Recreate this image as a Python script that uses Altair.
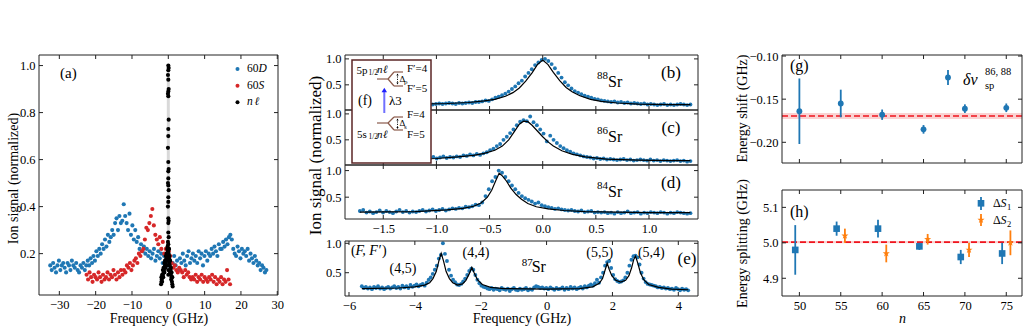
import altair as alt
import numpy as np
import pandas as pd

FONT = "Liberation Serif"
BLUE = "#1f77b4"
RED = "#d62728"
ORANGE = "#ff7f0e"
LINE_RED = "#f0141e"
INK = "#222222"
LEVEL = "#8a5a4a"
W, H = 1029, 332

# ---------------- (a) broad scan ----------------
d60_range = (-32.5, 27.0)
d60_signal = [
    0.15, 0.13, 0.16, 0.14, 0.12, 0.15, 0.17, 0.13, 0.15, 0.16, 0.14, 0.12, 0.16, 0.15, 0.13, 0.17, 0.15, 0.14, 0.16,
    0.13, 0.12, 0.15, 0.14, 0.16, 0.13, 0.15,
    0.17, 0.15, 0.18, 0.16, 0.19, 0.17, 0.21, 0.19,
    0.22, 0.20, 0.24, 0.22, 0.26, 0.23, 0.28, 0.25,
    0.27, 0.30, 0.28, 0.33, 0.35, 0.30, 0.36, 0.33, 0.34, 0.41,
    0.36, 0.33, 0.30, 0.37, 0.28, 0.32, 0.26, 0.30,
    0.25, 0.27, 0.22, 0.24, 0.21, 0.23, 0.20, 0.22, 0.19, 0.21,
    0.18, 0.20, 0.22, 0.17, 0.19, 0.21, 0.18, 0.20, 0.16, 0.19, 0.17,
    0.18, 0.15, 0.17, 0.14, 0.16, 0.19, 0.15, 0.17, 0.13, 0.18,
    0.16, 0.20, 0.17, 0.15, 0.19, 0.21, 0.16, 0.18, 0.20, 0.17,
    0.19, 0.16, 0.21, 0.18, 0.20, 0.15, 0.19, 0.21, 0.17, 0.20,
    0.19, 0.22, 0.20, 0.23, 0.21, 0.19, 0.24, 0.22,
    0.22, 0.25, 0.23, 0.26, 0.24, 0.27, 0.28, 0.26,
    0.22, 0.20, 0.19, 0.23, 0.21, 0.18, 0.22, 0.20,
    0.21, 0.19, 0.22, 0.17, 0.20, 0.18, 0.16, 0.19,
    0.17, 0.15, 0.16, 0.13, 0.15, 0.14, 0.12, 0.13,
]
s60_range = (-22.5, 17.0)
s60_signal = [
    0.11, 0.09, 0.12, 0.10, 0.08, 0.11, 0.10, 0.09, 0.12, 0.10, 0.08, 0.11, 0.09,
    0.10, 0.12, 0.09, 0.11, 0.10, 0.13, 0.11, 0.09, 0.12, 0.10, 0.13, 0.11,
    0.13, 0.12, 0.15, 0.14, 0.16, 0.13, 0.15, 0.17,
    0.18, 0.16, 0.20, 0.19, 0.21,
    0.22, 0.26, 0.31, 0.30, 0.33, 0.36, 0.39, 0.32, 0.28,
    0.26, 0.24, 0.27, 0.22, 0.25,
    0.20, 0.22, 0.18, 0.21, 0.19,
    0.16, 0.14, 0.15, 0.13, 0.12, 0.14, 0.13,
    0.12, 0.10, 0.13, 0.11, 0.12, 0.10, 0.09,
    0.10, 0.09, 0.11, 0.08, 0.10, 0.09, 0.11, 0.08, 0.10, 0.09, 0.08, 0.10, 0.09, 0.11,
    0.08, 0.10, 0.07, 0.09, 0.08, 0.10, 0.07, 0.09, 0.08, 0.13, 0.09, 0.07,
]
nl_freq = [
    0.0, 0.1, 0.0, -0.1, 0.0, 0.1, 0.0, -0.1, 0.0, 0.1, 0.0, 0.0, -0.1, 0.0, 0.1, 0.0,
    0.0, -0.1, 0.0, 0.1, 0.0, 0.0, -0.1, 0.0, 0.1, 0.0, 0.0, 0.1, -0.1, 0.0, 0.1,
    -2.0, -1.9, -1.8, -1.7, -1.6, -1.5, -1.4, -1.3, -1.2, -1.1, -1.0, -0.9, -0.8, -0.7, -0.6, -0.5, -0.4, -0.3, -0.2,
    -1.9, -1.7, -1.5, -1.3, -1.1, -0.9, -0.7, -0.5, -0.3,
    1.2, 1.1, 1.0, 0.9, 0.8, 0.7, 0.6, 0.5, 0.4, 0.3, 0.2, 0.1,
    1.1, 0.9, 0.7, 0.5, 0.3,
    -0.1, 0.0, 0.1, -0.1, 0.0, 0.2, 0.0, -0.2,
]
nl_signal = [
    1.00, 0.99, 0.98, 0.96, 0.94, 0.90, 0.89, 0.88, 0.87, 0.77, 0.73, 0.70, 0.65, 0.59, 0.56, 0.55,
    0.52, 0.50, 0.49, 0.47, 0.44, 0.42, 0.40, 0.35, 0.34, 0.33, 0.29, 0.27, 0.25, 0.24, 0.22,
    0.07, 0.08, 0.09, 0.08, 0.10, 0.11, 0.10, 0.12, 0.13, 0.12, 0.14, 0.15, 0.14, 0.16, 0.17, 0.18, 0.17, 0.19, 0.20,
    0.10, 0.11, 0.13, 0.14, 0.16, 0.17, 0.19, 0.20, 0.22,
    0.06, 0.07, 0.08, 0.10, 0.09, 0.11, 0.13, 0.12, 0.15, 0.16, 0.18, 0.20,
    0.10, 0.12, 0.14, 0.17, 0.19,
    0.21, 0.19, 0.17, 0.15, 0.13, 0.22, 0.11, 0.23,
]

# ---------------- (b)-(d) isotope scans ----------------
iso_range = (-1.72, 1.39)
sr88_signal = [
    0.13, 0.12, 0.14, 0.13, 0.12, 0.13, 0.14, 0.12, 0.13, 0.14, 0.13, 0.12, 0.13, 0.14, 0.13, 0.12, 0.14, 0.13, 0.13, 0.12, 0.14, 0.13, 0.12,
    0.13, 0.14, 0.13, 0.14, 0.15, 0.14, 0.13, 0.15, 0.14, 0.15, 0.16, 0.15, 0.17,
    0.17, 0.18, 0.20, 0.19, 0.22, 0.25, 0.27, 0.30, 0.33, 0.37,
    0.42, 0.47, 0.53, 0.58, 0.66, 0.73, 0.80, 0.88, 0.93, 0.98,
    1.00, 0.96, 0.90, 0.82, 0.73, 0.64, 0.55, 0.49, 0.43, 0.38,
    0.35, 0.32, 0.29, 0.27, 0.25, 0.23, 0.22, 0.20, 0.19, 0.18,
    0.17, 0.18, 0.16, 0.17, 0.15, 0.16, 0.14, 0.15, 0.14, 0.13, 0.14, 0.12, 0.13,
    0.12, 0.11, 0.12, 0.13, 0.11, 0.12, 0.11, 0.12, 0.13, 0.12, 0.11, 0.12,
]
sr88_fit_f = [-1.72, -1.2, -0.9, -0.7, -0.55, -0.45, -0.35, -0.28, -0.22, -0.16, -0.1, -0.05, 0.0,
              0.05, 0.1, 0.16, 0.22, 0.28, 0.35, 0.45, 0.55, 0.7, 0.9, 1.2, 1.39]
sr88_fit = [0.12, 0.13, 0.14, 0.16, 0.19, 0.22, 0.28, 0.35, 0.44, 0.57, 0.73, 0.89, 0.98,
            0.89, 0.74, 0.58, 0.45, 0.36, 0.29, 0.22, 0.18, 0.15, 0.13, 0.12, 0.12]

sr86_signal = [
    0.09, 0.10, 0.09, 0.11, 0.10, 0.09, 0.11, 0.12, 0.10, 0.12, 0.11, 0.13, 0.12,
    0.13, 0.12, 0.14, 0.13, 0.15, 0.14, 0.13, 0.16, 0.15, 0.17, 0.14, 0.16, 0.18, 0.15, 0.17, 0.16,
    0.18, 0.17, 0.20, 0.19, 0.22, 0.20, 0.23, 0.21, 0.24, 0.26,
    0.30, 0.33, 0.38, 0.42, 0.50, 0.56, 0.63, 0.70, 0.78, 0.85,
    0.88, 0.86, 0.95, 0.84, 0.78, 0.70, 0.62, 0.47, 0.58, 0.50,
    0.44, 0.38, 0.34, 0.30, 0.27, 0.24, 0.22, 0.20, 0.18, 0.17,
    0.16, 0.14, 0.15, 0.13, 0.14, 0.12, 0.13, 0.12, 0.11, 0.12, 0.13, 0.11, 0.12, 0.10, 0.11, 0.12,
    0.11, 0.10, 0.12, 0.10, 0.11, 0.09, 0.11, 0.10, 0.09, 0.10, 0.11, 0.09, 0.10, 0.08, 0.09,
]
sr86_fit_f = [-1.72, -1.3, -1.0, -0.8, -0.65, -0.55, -0.45, -0.38, -0.32, -0.27, -0.22, -0.18, -0.14,
              -0.1, -0.05, 0.0, 0.05, 0.1, 0.18, 0.28, 0.4, 0.6, 0.9, 1.2, 1.39]
sr86_fit = [0.10, 0.12, 0.14, 0.17, 0.20, 0.24, 0.30, 0.38, 0.50, 0.65, 0.80, 0.86, 0.85,
            0.78, 0.67, 0.56, 0.46, 0.38, 0.29, 0.22, 0.17, 0.13, 0.11, 0.10, 0.10]

sr84_signal = [
    0.24, 0.26, 0.21, 0.23, 0.20, 0.22, 0.25, 0.21, 0.24, 0.22, 0.20, 0.23, 0.26, 0.22, 0.24, 0.21, 0.23,
    0.22, 0.24, 0.26, 0.23, 0.25, 0.27, 0.24, 0.26, 0.28, 0.25, 0.27, 0.29, 0.28,
    0.30, 0.29, 0.32, 0.31, 0.33, 0.36, 0.35, 0.40,
    0.52, 0.65, 0.80, 0.88, 1.00,
    0.96, 0.88, 0.80, 0.72, 0.65, 0.58, 0.52,
    0.48, 0.45, 0.42, 0.38, 0.40, 0.35, 0.33, 0.31, 0.30, 0.28,
    0.29, 0.27, 0.26, 0.25, 0.26, 0.24, 0.23, 0.25, 0.22, 0.23, 0.24, 0.21, 0.22,
    0.21, 0.22, 0.20, 0.21, 0.19, 0.22, 0.20, 0.21, 0.23, 0.20, 0.21, 0.22, 0.19, 0.21, 0.20, 0.22,
    0.21, 0.20, 0.22, 0.21, 0.19, 0.21, 0.20, 0.22, 0.21, 0.20, 0.19, 0.20,
]
sr84_fit_f = [-1.72, -1.2, -0.9, -0.75, -0.65, -0.58, -0.52, -0.48, -0.44, -0.41, -0.38, -0.34,
              -0.3, -0.25, -0.2, -0.14, -0.06, 0.05, 0.2, 0.4, 0.7, 1.0, 1.39]
sr84_fit = [0.22, 0.23, 0.26, 0.29, 0.33, 0.39, 0.50, 0.63, 0.82, 0.95, 0.90, 0.80,
            0.67, 0.55, 0.46, 0.38, 0.32, 0.28, 0.25, 0.23, 0.22, 0.21, 0.21]

# ---------------- (e) 87Sr hyperfine scan ----------------
sr87_range = (-5.61, 4.3)
sr87_signal = [
    0.27, 0.24, 0.26, 0.23, 0.25, 0.22, 0.26, 0.24, 0.27, 0.23, 0.25, 0.22, 0.24, 0.26, 0.23, 0.25, 0.27, 0.24, 0.26, 0.23, 0.28, 0.25, 0.27, 0.24, 0.29, 0.26,
    0.28, 0.30, 0.27, 0.29, 0.31, 0.28, 0.33,
    0.38, 0.42, 0.48, 0.55, 0.62, 0.74, 0.80,
    1.00, 0.82, 0.70, 0.55, 0.45, 0.38,
    0.34, 0.30, 0.29, 0.31, 0.35, 0.40,
    0.46, 0.53, 0.57,
    0.55, 0.46, 0.38, 0.32, 0.28, 0.26,
    0.25, 0.23, 0.22, 0.24, 0.21, 0.23, 0.22, 0.20, 0.24, 0.22, 0.21, 0.23, 0.19, 0.22, 0.24, 0.21, 0.20, 0.23, 0.21, 0.22,
    0.24, 0.20, 0.22, 0.21, 0.25, 0.27, 0.26, 0.24, 0.25, 0.23, 0.24, 0.22, 0.25, 0.23, 0.21, 0.24, 0.22, 0.23, 0.25, 0.21,
    0.24, 0.22, 0.26, 0.23, 0.25, 0.22, 0.24, 0.26, 0.23, 0.27, 0.25, 0.28,
    0.30, 0.28, 0.32, 0.38, 0.33, 0.42, 0.50, 0.62, 0.68,
    0.70, 0.58, 0.46, 0.39, 0.36, 0.34, 0.35,
    0.37, 0.42, 0.50, 0.62, 0.72, 0.78, 0.79,
    0.76, 0.64, 0.50, 0.40, 0.34, 0.31, 0.30, 0.29,
    0.28, 0.27, 0.25, 0.26, 0.24, 0.25, 0.23, 0.24, 0.22, 0.23, 0.21, 0.24, 0.22, 0.20, 0.23, 0.21, 0.22, 0.20,
]
sr87_fit_f = [-5.61, -4.5, -4.0, -3.7, -3.55, -3.45, -3.35, -3.27, -3.2, -3.13, -3.05, -2.95, -2.85, -2.7,
              -2.55, -2.45, -2.35, -2.27, -2.2, -2.1, -1.95, -1.7, -1.3, 0.0, 1.0, 1.4, 1.6, 1.7, 1.78,
              1.84, 1.9, 1.98, 2.1, 2.25, 2.4, 2.5, 2.58, 2.65, 2.7, 2.76, 2.85, 2.95, 3.1, 3.4, 3.8, 4.3]
sr87_fit = [0.23, 0.24, 0.26, 0.29, 0.33, 0.40, 0.52, 0.70, 0.83, 0.70, 0.52, 0.40, 0.33, 0.29,
            0.31, 0.37, 0.48, 0.59, 0.50, 0.38, 0.30, 0.25, 0.23, 0.22, 0.23, 0.26, 0.32, 0.40, 0.55,
            0.66, 0.56, 0.45, 0.37, 0.34, 0.37, 0.45, 0.58, 0.73, 0.78, 0.68, 0.50, 0.38, 0.30, 0.25, 0.22, 0.21]
hf_labels = ["(4,5)", "(4,4)", "(5,5)", "(5,4)"]

# ---------------- (g) isotope shift vs n ----------------
g_n = [50, 55, 60, 65, 70, 75]
g_shift = [-0.164, -0.155, -0.168, -0.185, -0.161, -0.160]
g_err = [0.038, 0.016, 0.006, 0.005, 0.005, 0.005]
g_mean, g_mean_err = -0.1695, 0.0035

# ---------------- (h) hyperfine splittings vs n ----------------
s1_n = [49.5, 54.5, 59.5, 64.5, 69.5, 74.5]
s1_val = [4.98, 5.04, 5.04, 4.99, 4.96, 4.97]
s1_err = [0.07, 0.02, 0.025, 0.01, 0.02, 0.03]
s2_n = [55.5, 60.5, 65.5, 70.5, 75.5]
s2_val = [5.02, 4.97, 5.01, 4.98, 5.00]
s2_err = [0.02, 0.025, 0.015, 0.02, 0.035]
h_mean, h_mean_err = 5.002, 0.003

STAR = ("M0,-1L0.235,-0.324L0.951,-0.309L0.38,0.124L0.588,0.809L0,0.4L-0.588,0.809"
        "L-0.38,0.124L-0.951,-0.309L-0.235,-0.324Z")

ONE = pd.DataFrame({"k": [0]})

# panel boxes in canvas pixels: (left, top, right, bottom)
BOX_A = (39, 55, 278, 295)
BOX_B = (345, 55, 698, 110)
BOX_C = (345, 110, 698, 165)
BOX_D = (345, 165, 698, 219)
BOX_E = (345, 241, 698, 296)
BOX_G = (782, 55, 1022, 163)
BOX_H = (782, 190, 1022, 296)


def scales(box, xdom, ydom):
    x0, y0, x1, y1 = box
    xs = alt.Scale(domain=list(xdom), range=[x0, x1], nice=False, zero=False)
    ys = alt.Scale(domain=list(ydom), range=[y1, y0], nice=False, zero=False)
    return xs, ys


def left_axis(box, values, fmt, **kw):
    return alt.Axis(orient="left", offset=-box[0], values=values, format=fmt, labelPadding=4, **kw)


def bottom_axis(box, values, fmt, **kw):
    return alt.Axis(orient="bottom", offset=box[3] - H, values=values, format=fmt, labelPadding=3, **kw)


def titled(title, x, y, angle=0, **kw):
    return dict(title=title, titleX=x, titleY=y, titleAngle=angle,
                titleBaseline="middle", titleAlign="center", **kw)


def seg(x1, y1, x2, y2, color=INK, width=1.0, dash=None):
    kw = dict(color=color, strokeWidth=width)
    if dash:
        kw["strokeDash"] = dash
    return alt.Chart(ONE).mark_rule(**kw).encode(
        x=alt.value(x1), y=alt.value(y1), x2=alt.value(x2), y2=alt.value(y2))


def label(s, x, y, size, align="left", style="normal", color="black", angle=0):
    return alt.Chart(ONE).mark_text(
        text=s, align=align, baseline="middle", fontSize=size, font=FONT,
        fontStyle=style, color=color, angle=angle,
    ).encode(x=alt.value(x), y=alt.value(y))


def dot(x, y, color, size, shape="circle"):
    return alt.Chart(ONE).mark_point(shape=shape, filled=True, size=size, color=color, opacity=1).encode(
        x=alt.value(x), y=alt.value(y))


def frame(box, xt, yt, xs, ys, L=4):
    """Box around a panel with inward ticks on all four sides."""
    x0, y0, x1, y1 = box
    out = [seg(x0, y0, x1, y0), seg(x0, y1, x1, y1), seg(x0, y0, x0, y1), seg(x1, y0, x1, y1)]
    tx = pd.DataFrame({"x": xt})
    ty = pd.DataFrame({"y": yt})
    X = alt.X("x:Q", scale=xs, axis=None)
    Y = alt.Y("y:Q", scale=ys, axis=None)
    rk = dict(color=INK, strokeWidth=1)
    out += [
        alt.Chart(tx).mark_rule(**rk).encode(x=X, y=alt.value(y1 - L), y2=alt.value(y1)),
        alt.Chart(tx).mark_rule(**rk).encode(x=X, y=alt.value(y0), y2=alt.value(y0 + L)),
        alt.Chart(ty).mark_rule(**rk).encode(y=Y, x=alt.value(x0), x2=alt.value(x0 + L)),
        alt.Chart(ty).mark_rule(**rk).encode(y=Y, x=alt.value(x1 - L), x2=alt.value(x1)),
    ]
    return out


layers = []

# ================= panel (a) =================
xa, ya = scales(BOX_A, (-35.6, 30.2), (0.024, 1.045))
a_xt = [-30, -20, -10, 0, 10, 20, 30]
a_yt = [0.2, 0.4, 0.6, 0.8, 1.0]
Xa = alt.X("x:Q", scale=xa, axis=None)
Ya = alt.Y("y:Q", scale=ya, axis=None)
df_d60 = pd.DataFrame({"x": np.linspace(*d60_range, len(d60_signal)), "y": d60_signal})
df_s60 = pd.DataFrame({"x": np.linspace(*s60_range, len(s60_signal)), "y": s60_signal})
df_nl = pd.DataFrame({"x": nl_freq, "y": nl_signal})
df_nl_line = pd.DataFrame({"x": [0.0], "y": [min(v for v in nl_signal if v > 0.2)], "y2": [max(nl_signal)]})

layers += [
    alt.Chart(df_nl_line).mark_rule(color="#d9d9d9", strokeWidth=3).encode(x=Xa, y=Ya, y2="y2:Q"),
    alt.Chart(df_d60).mark_circle(color=BLUE, size=17, opacity=1).encode(
        x=alt.X("x:Q", scale=xa, axis=bottom_axis(BOX_A, a_xt, "d", **titled("Frequency (GHz)", 158.5, 23))),
        y=alt.Y("y:Q", scale=ya, axis=left_axis(BOX_A, a_yt, ".1f", **titled("Ion signal (normalized)", -26, 178, 270)))),
    alt.Chart(df_s60).mark_circle(color=RED, size=17, opacity=1).encode(x=Xa, y=Ya),
    alt.Chart(df_nl).mark_circle(color="black", size=17, opacity=1).encode(x=Xa, y=Ya),
    *frame(BOX_A, a_xt, a_yt, xa, ya),
    dot(237.5, 69, BLUE, 16), label("60", 247, 69, 11.5), label("D", 258.5, 69, 11.5, style="italic"),
    dot(237.5, 85.7, RED, 16), label("60", 247, 85.7, 11.5), label("S", 258.5, 85.7, 11.5, style="italic"),
    dot(237.5, 102.3, "black", 16), label("n", 247, 102.3, 11.5, style="italic"),
    label("ℓ", 254.5, 102.3, 11.5, style="italic"),
    label("(a)", 60, 73, 15),
]

# ================= panels (b)-(e) =================
iso_xt = [-1.5, -1.0, -0.5, 0.0, 0.5, 1.0]
iso_yt = [0.5, 1.0]


def iso_panel(box, xdom, ydom, signal, xr, fit_f, fit_y, xt, x_axis, y_axis):
    xs, ys = scales(box, xdom, ydom)
    df = pd.DataFrame({"x": np.linspace(*xr, len(signal)), "y": signal})
    df_fit = pd.DataFrame({"x": fit_f, "y": fit_y})
    return [
        alt.Chart(df).mark_circle(color=BLUE, size=15, opacity=1).encode(
            x=alt.X("x:Q", scale=xs, axis=x_axis), y=alt.Y("y:Q", scale=ys, axis=y_axis)),
        alt.Chart(df_fit).mark_line(color="black", strokeWidth=1.2).encode(
            x=alt.X("x:Q", scale=xs, axis=None), y=alt.Y("y:Q", scale=ys, axis=None)),
        *frame(box, xt, iso_yt, xs, ys),
    ]


def isotope_tag(box, mass, tag):
    y0 = box[1]
    return [label(mass, 597, y0 + 21, 11), label("Sr", 608, y0 + 27, 16),
            label(tag, 671, y0 + 18, 17, align="center")]


x_iso = (-1.86, 1.461)
layers += iso_panel(BOX_B, x_iso, (0.015, 1.075), sr88_signal, iso_range, sr88_fit_f, sr88_fit, iso_xt,
                    None, left_axis(BOX_B, iso_yt, ".1f", title=None))
layers += isotope_tag(BOX_B, "88", "(b)")

layers += iso_panel(BOX_C, x_iso, (0.015, 1.075), sr86_signal, iso_range, sr86_fit_f, sr86_fit, iso_xt,
                    None, left_axis(BOX_C, iso_yt, ".1f",
                                    **titled("Ion signal (normalized)", -30, 155, 270, titleFontSize=17)))
layers += isotope_tag(BOX_C, "86", "(c)")

layers += iso_panel(BOX_D, x_iso, (0.09, 1.105), sr84_signal, iso_range, sr84_fit_f, sr84_fit, iso_xt,
                    bottom_axis(BOX_D, iso_xt, ".1f", title=None), left_axis(BOX_D, iso_yt, ".1f", title=None))
layers += isotope_tag(BOX_D, "84", "(d)")

e_xt = [-6, -4, -2, 0, 2, 4]
layers += iso_panel(BOX_E, (-6.121, 4.598), (0.104, 1.039), sr87_signal, sr87_range, sr87_fit_f, sr87_fit, e_xt,
                    bottom_axis(BOX_E, e_xt, "d", **titled("Frequency (GHz)", 521.5, 22)),
                    left_axis(BOX_E, iso_yt, ".1f", title=None))
layers += [
    label("(", 351, 250.7, 14), label("F, F′", 355.5, 250.7, 14, style="italic"), label(")", 382, 250.7, 14),
    label(hf_labels[0], 403, 269, 14, align="center"),
    label(hf_labels[1], 476, 252.7, 14, align="center"),
    label(hf_labels[2], 599.7, 252.7, 14, align="center"),
    label(hf_labels[3], 651.3, 252.7, 14, align="center"),
    label("87", 521.7, 262.7, 11), label("Sr", 531.7, 266.7, 16),
    label("(e)", 687, 259, 17, align="center"),
]

# level scheme (f), drawn over panels (b) and (c)
layers += [
    alt.Chart(ONE).mark_rect(fill="white", stroke="#5b2626", strokeWidth=1.5).encode(
        x=alt.value(352), x2=alt.value(431), y=alt.value(60), y2=alt.value(163)),
    seg(377, 79, 388, 79, LEVEL, 1.2), seg(388, 79, 394, 72, LEVEL, 1.2), seg(388, 79, 394, 86, LEVEL, 1.2),
    seg(394, 72, 403, 72, LEVEL, 1.2), seg(394, 86, 403, 86, LEVEL, 1.2),
    seg(397.5, 74, 397.5, 84, "black", 0.9, [1.2, 1.2]),
    dot(397.5, 74.5, "black", 5, "triangle-up"), dot(397.5, 83.5, "black", 5, "triangle-down"),
    label("5p", 356.5, 71, 11), label("1/2", 368.5, 72.5, 7.5),
    label("n", 377, 70, 11, style="italic"), label("ℓ", 383, 70, 11, style="italic"),
    label("Δ", 399.5, 78.5, 9), label("p", 404, 81.5, 7),
    label("F′=4", 407, 69, 11), label("F′=5", 407, 89, 11),
    label("(f)", 358, 101, 14),
    seg(384.3, 113, 384.3, 92, "#7070ff", 2), dot(384.3, 90, "#2020ff", 30, "triangle-up"),
    label("λ3", 389, 101, 13),
    seg(377, 123, 388, 123, LEVEL, 1.2), seg(388, 123, 394, 117, LEVEL, 1.2), seg(388, 123, 394, 130, LEVEL, 1.2),
    seg(394, 117, 403, 117, LEVEL, 1.2), seg(394, 130, 403, 130, LEVEL, 1.2),
    seg(397.5, 119, 397.5, 128.5, "black", 0.9, [1.2, 1.2]),
    dot(397.5, 119.5, "black", 5, "triangle-up"), dot(397.5, 128, "black", 5, "triangle-down"),
    label("5s", 357, 135, 11), label("1/2", 368.5, 136.5, 7.5),
    label("n", 377, 135, 11, style="italic"), label("ℓ", 383, 135, 11, style="italic"),
    label("Δ", 399.5, 123, 9), label("s", 404, 126.5, 7),
    label("F=4", 407, 115, 11), label("F=5", 407, 135, 11),
]

# ================= panels (g) and (h) =================
n_ticks = [50, 55, 60, 65, 70, 75]
n_dom = (47.9, 76.9)

xg, yg = scales(BOX_G, n_dom, (-0.224, -0.0988))
g_yt = [-0.2, -0.15, -0.1]
df_g = pd.DataFrame({"x": g_n, "y": g_shift,
                     "lo": [v - e for v, e in zip(g_shift, g_err)], "hi": [v + e for v, e in zip(g_shift, g_err)]})
Xg = alt.X("x:Q", scale=xg, axis=None)
layers += [
    alt.Chart(pd.DataFrame({"lo": [g_mean - g_mean_err], "hi": [g_mean + g_mean_err]})).mark_rect(
        color="#f6a5a5", opacity=0.5).encode(x=alt.value(BOX_G[0]), x2=alt.value(BOX_G[2]),
                                             y=alt.Y("lo:Q", scale=yg, axis=None), y2="hi:Q"),
    alt.Chart(pd.DataFrame({"y": [g_mean]})).mark_rule(color=LINE_RED, strokeWidth=1.6, strokeDash=[6, 3]).encode(
        x=alt.value(BOX_G[0]), x2=alt.value(BOX_G[2]), y=alt.Y("y:Q", scale=yg, axis=None)),
    alt.Chart(df_g).mark_rule(color=BLUE, strokeWidth=1.8).encode(
        x=Xg, y=alt.Y("lo:Q", scale=yg, axis=None), y2="hi:Q"),
    alt.Chart(df_g).mark_circle(color=BLUE, size=34, opacity=1).encode(
        x=Xg, y=alt.Y("y:Q", scale=yg, axis=left_axis(BOX_G, g_yt, ".2f",
                                                       **titled("Energy shift (GHz)", -40, 108, 270)))),
    *frame(BOX_G, n_ticks, g_yt, xg, yg),
    seg(948, 70, 948, 85, BLUE, 1.8), dot(948, 77.5, BLUE, 34),
    label("δν", 963, 80, 16, style="italic"), label("86, 88", 985, 72, 10.5), label("sp", 985, 86, 10.5),
    label("(g)", 790, 66, 16),
]

xh, yh = scales(BOX_H, n_dom, (4.85, 5.149))
h_yt = [4.9, 5.0, 5.1]
df_s1 = pd.DataFrame({"x": s1_n, "y": s1_val,
                      "lo": [v - e for v, e in zip(s1_val, s1_err)], "hi": [v + e for v, e in zip(s1_val, s1_err)]})
df_s2 = pd.DataFrame({"x": s2_n, "y": s2_val,
                      "lo": [v - e for v, e in zip(s2_val, s2_err)], "hi": [v + e for v, e in zip(s2_val, s2_err)]})
Xh = alt.X("x:Q", scale=xh, axis=None)
Yh = alt.Y("y:Q", scale=yh, axis=None)
Yh_lo = alt.Y("lo:Q", scale=yh, axis=None)
layers += [
    alt.Chart(pd.DataFrame({"lo": [h_mean - h_mean_err], "hi": [h_mean + h_mean_err]})).mark_rect(
        color="#f6a5a5", opacity=0.5).encode(x=alt.value(BOX_H[0]), x2=alt.value(BOX_H[2]), y=Yh_lo, y2="hi:Q"),
    alt.Chart(pd.DataFrame({"y": [h_mean]})).mark_rule(color=LINE_RED, strokeWidth=1.6, strokeDash=[6, 3]).encode(
        x=alt.value(BOX_H[0]), x2=alt.value(BOX_H[2]), y=Yh),
    alt.Chart(df_s1).mark_rule(color=BLUE, strokeWidth=1.8).encode(x=Xh, y=Yh_lo, y2="hi:Q"),
    alt.Chart(df_s2).mark_rule(color=ORANGE, strokeWidth=1.8).encode(x=Xh, y=Yh_lo, y2="hi:Q"),
    alt.Chart(df_s1).mark_square(color=BLUE, size=44, opacity=1).encode(
        x=alt.X("x:Q", scale=xh, axis=bottom_axis(BOX_H, n_ticks, "d", titleFontStyle="italic",
                                                  **titled("n", 902, 22))),
        y=alt.Y("y:Q", scale=yh, axis=left_axis(BOX_H, h_yt, ".1f",
                                                **titled("Energy splitting (GHz)", -40, 243, 270)))),
    alt.Chart(df_s2).mark_point(shape=STAR, filled=True, color=ORANGE, size=55, opacity=1).encode(x=Xh, y=Yh),
    *frame(BOX_H, n_ticks, h_yt, xh, yh),
    seg(981, 197, 981, 210, BLUE, 1.8), dot(981, 203.3, BLUE, 44, "square"),
    label("Δ", 993, 203.3, 12), label("S", 1000.5, 203.3, 12, style="italic"), label("1", 1007, 207, 8.5),
    seg(981, 214, 981, 226, ORANGE, 1.8), dot(981, 220, ORANGE, 55, STAR),
    label("Δ", 993, 220, 12), label("S", 1000.5, 220, 12, style="italic"), label("2", 1007, 224, 8.5),
    label("(h)", 790, 211.7, 16),
]

chart = alt.layer(*layers).resolve_scale(x="independent", y="independent").properties(
    width=W, height=H, padding=0, autosize=alt.AutoSizeParams(type="none")
).configure(font=FONT).configure_view(stroke="transparent").configure_axis(
    labelFont=FONT, labelFontSize=12.5, labelColor="black", titleFont=FONT, titleFontSize=14,
    titleFontWeight="normal", titleColor="black", domain=False, ticks=False, tickSize=0, grid=False,
    labelFlush=False, labelOverlap=False,
)

chart.save("out.html", embed_options={"renderer": "svg", "actions": False})
